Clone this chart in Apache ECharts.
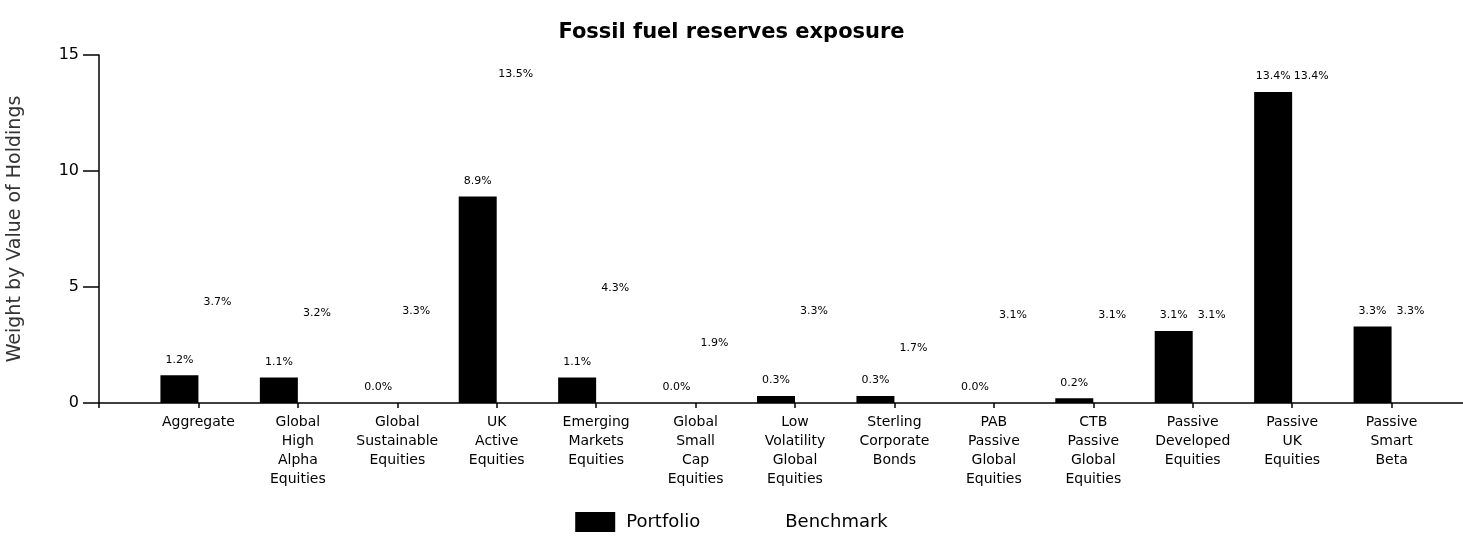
<!DOCTYPE html>
<html>
<head>
<meta charset="utf-8">
<script src="https://cdn.jsdelivr.net/npm/echarts@6/dist/echarts.min.js"></script>
<style>
  html, body { margin: 0; padding: 0; background: #fff; }
  #myBar { width: 1463px; height: 538px; }
</style>
</head>
<body>
<div id="myBar"></div>
<script>
var categories = ['Aggregate', 'Global High Alpha Equities', 'Global Sustainable Equities',
    'UK Active Equities', 'Emerging Markets Equities', 'Global Small Cap Equities',
    'Low Volatility Global Equities', 'Sterling Corporate Bonds', 'PAB Passive Global Equities',
    'CTB Passive Global Equities', 'Passive Developed Equities', 'Passive UK Equities',
    'Passive Smart Beta'];
var portfolio = [1.2, 1.1, 0.0, 8.9, 1.1, 0.0, 0.3, 0.3, 0.0, 0.2, 3.1, 13.4, 3.3];
var benchmark = [3.7, 3.2, 3.3, 13.5, 4.3, 1.9, 3.3, 1.7, 3.1, 3.1, 3.1, 13.4, 3.3];
var yTicks = [0, 5, 10, 15];

// the axis has an empty slot before the first and after the last category
var axisCats = [''].concat(categories, ['']);
var padPortfolio = [null].concat(portfolio, [null]);
var padBenchmark = [null].concat(benchmark, [null]);

var font = 'DejaVu Sans';
var dom = document.getElementById("myBar");
var myBar = echarts.init(dom);

var pctLabel = {
    show: true,
    position: 'top',
    distance: 10,
    fontFamily: font,
    fontSize: 11,
    color: '#000',
    formatter: function (p) { return p.value.toFixed(1) + '%'; }
};

var option = {
    backgroundColor: '#fff',
    animation: false,
    title: {
        text: 'Fossil fuel reserves exposure',
        left: 'center',
        top: 17,
        textStyle: { fontFamily: font, fontSize: 21, fontWeight: 'bold', color: '#000' }
    },
    legend: {
        bottom: 1,
        left: 'center',
        itemWidth: 40,
        itemHeight: 20,
        itemGap: 34,
        icon: 'rect',
        textStyle: { fontFamily: font, fontSize: 18, color: '#000', padding: [0, 0, 0, 6] },
        data: ['Portfolio', 'Benchmark']
    },
    grid: { left: 99, right: -28, top: 55, bottom: 135, outerBoundsMode: 'none' },
    xAxis: {
        type: 'category',
        data: axisCats,
        boundaryGap: false,
        z: 5,
        axisLine: { lineStyle: { color: '#000', width: 1.5 } },
        axisTick: { show: true, length: 5, lineStyle: { color: '#000', width: 1.5 } },
        axisLabel: {
            interval: 0,
            margin: 10,
            fontFamily: font,
            fontSize: 14,
            lineHeight: 19,
            color: '#000',
            formatter: function (v) { return v.split(' ').join('\n'); }
        },
        splitLine: { show: false }
    },
    yAxis: {
        type: 'value',
        min: yTicks[0],
        max: yTicks[yTicks.length - 1],
        interval: 5,
        name: 'Weight by Value of Holdings',
        nameLocation: 'middle',
        nameGap: 74,
        nameTextStyle: { fontFamily: font, fontSize: 19, color: '#333' },
        axisLine: { show: true, lineStyle: { color: '#000', width: 1.5 } },
        axisTick: { show: true, length: 16, lineStyle: { color: '#000', width: 1.5 } },
        axisLabel: { fontFamily: font, fontSize: 16, color: '#000', margin: 20 },
        splitLine: { show: false }
    },
    series: [
        {
            name: 'Portfolio',
            type: 'bar',
            barWidth: 38,
            barGap: '0%',
            data: padPortfolio,
            itemStyle: { color: '#000' },
            label: pctLabel
        },
        {
            name: 'Benchmark',
            type: 'bar',
            barWidth: 38,
            data: padBenchmark,
            itemStyle: { color: 'rgba(255,255,255,0)' },
            label: pctLabel
        }
    ]
};
myBar.setOption(option, true);
</script>
</body>
</html>
